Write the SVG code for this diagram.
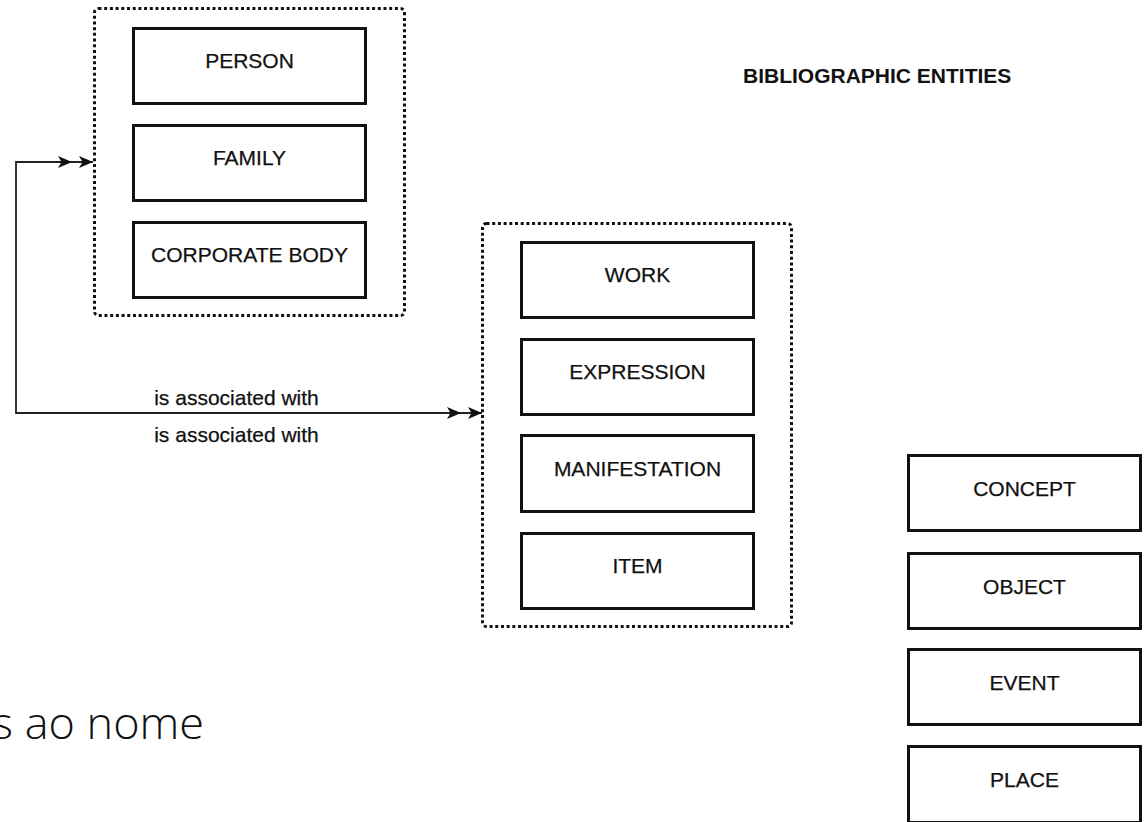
<svg xmlns="http://www.w3.org/2000/svg" width="1147" height="822" viewBox="0 0 1147 822">
<style>
.box{fill:#fff;stroke:#111;stroke-width:3}
.grp{fill:none;stroke:#111;stroke-width:3;stroke-dasharray:3 2.7}
.lbl{font-family:"Liberation Sans",Arial,sans-serif;font-size:21px;fill:#111;stroke:#111;stroke-width:0.25;text-anchor:middle}
.title{font-family:"Liberation Sans",Arial,sans-serif;font-size:21px;font-weight:bold;fill:#111}
.edge{fill:none;stroke:#222;stroke-width:1.8}
.note{font-family:"Open Sans","Noto Sans",sans-serif;font-weight:300;font-size:45px;fill:#111}
</style>
<defs>
<marker id="dbl" viewBox="-12 -7 36 14" markerWidth="36" markerHeight="14" refX="24" refY="0" orient="auto-start-reverse" markerUnits="userSpaceOnUse">
<path d="M10,-6 L24,0 L10,6 L13.5,0 Z M-11,-6 L3,0 L-11,6 L-7.5,0 Z" fill="#111"/>
</marker>
</defs>
<rect width="1147" height="822" fill="#fff"/>

<g id="group-agents">
<rect class="grp" x="94.5" y="8.5" width="310" height="307" rx="4"/>
</g>
<g id="group-works">
<rect class="grp" x="482.5" y="223.5" width="309" height="403" rx="4"/>
</g>

<g id="connectors">
<path class="edge" d="M93,162 L16,162 L16,413 L482,413" marker-start="url(#dbl)" marker-end="url(#dbl)"/>
<text class="lbl" x="236.5" y="405">is associated with</text>
<text class="lbl" x="236.5" y="442">is associated with</text>
</g>

<g id="person"><rect class="box" x="133.5" y="28.5" width="232" height="75"/><text class="lbl" x="249.5" y="68">PERSON</text></g>
<g id="family"><rect class="box" x="133.5" y="125.5" width="232" height="75"/><text class="lbl" x="249.5" y="165">FAMILY</text></g>
<g id="corporate-body"><rect class="box" x="133.5" y="222.5" width="232" height="75"/><text class="lbl" x="249.5" y="262">CORPORATE BODY</text></g>

<g id="work"><rect class="box" x="521.5" y="242.5" width="232" height="75"/><text class="lbl" x="637.5" y="282">WORK</text></g>
<g id="expression"><rect class="box" x="521.5" y="339.5" width="232" height="75"/><text class="lbl" x="637.5" y="379">EXPRESSION</text></g>
<g id="manifestation"><rect class="box" x="521.5" y="435.5" width="232" height="76"/><text class="lbl" x="637.5" y="476">MANIFESTATION</text></g>
<g id="item"><rect class="box" x="521.5" y="533.5" width="232" height="75"/><text class="lbl" x="637.5" y="573">ITEM</text></g>

<g id="concept"><rect class="box" x="908.5" y="455.5" width="232" height="75"/><text class="lbl" x="1024.5" y="496">CONCEPT</text></g>
<g id="object"><rect class="box" x="908.5" y="553.5" width="232" height="75"/><text class="lbl" x="1024.5" y="594">OBJECT</text></g>
<g id="event"><rect class="box" x="908.5" y="649.5" width="232" height="75"/><text class="lbl" x="1024.5" y="690">EVENT</text></g>
<g id="place"><rect class="box" x="908.5" y="746.5" width="232" height="76"/><text class="lbl" x="1024.5" y="787">PLACE</text></g>

<g id="title"><text class="title" x="743" y="83">BIBLIOGRAPHIC ENTITIES</text></g>
<g id="note"><text class="note" x="-8" y="739">s ao nome</text></g>
</svg>
